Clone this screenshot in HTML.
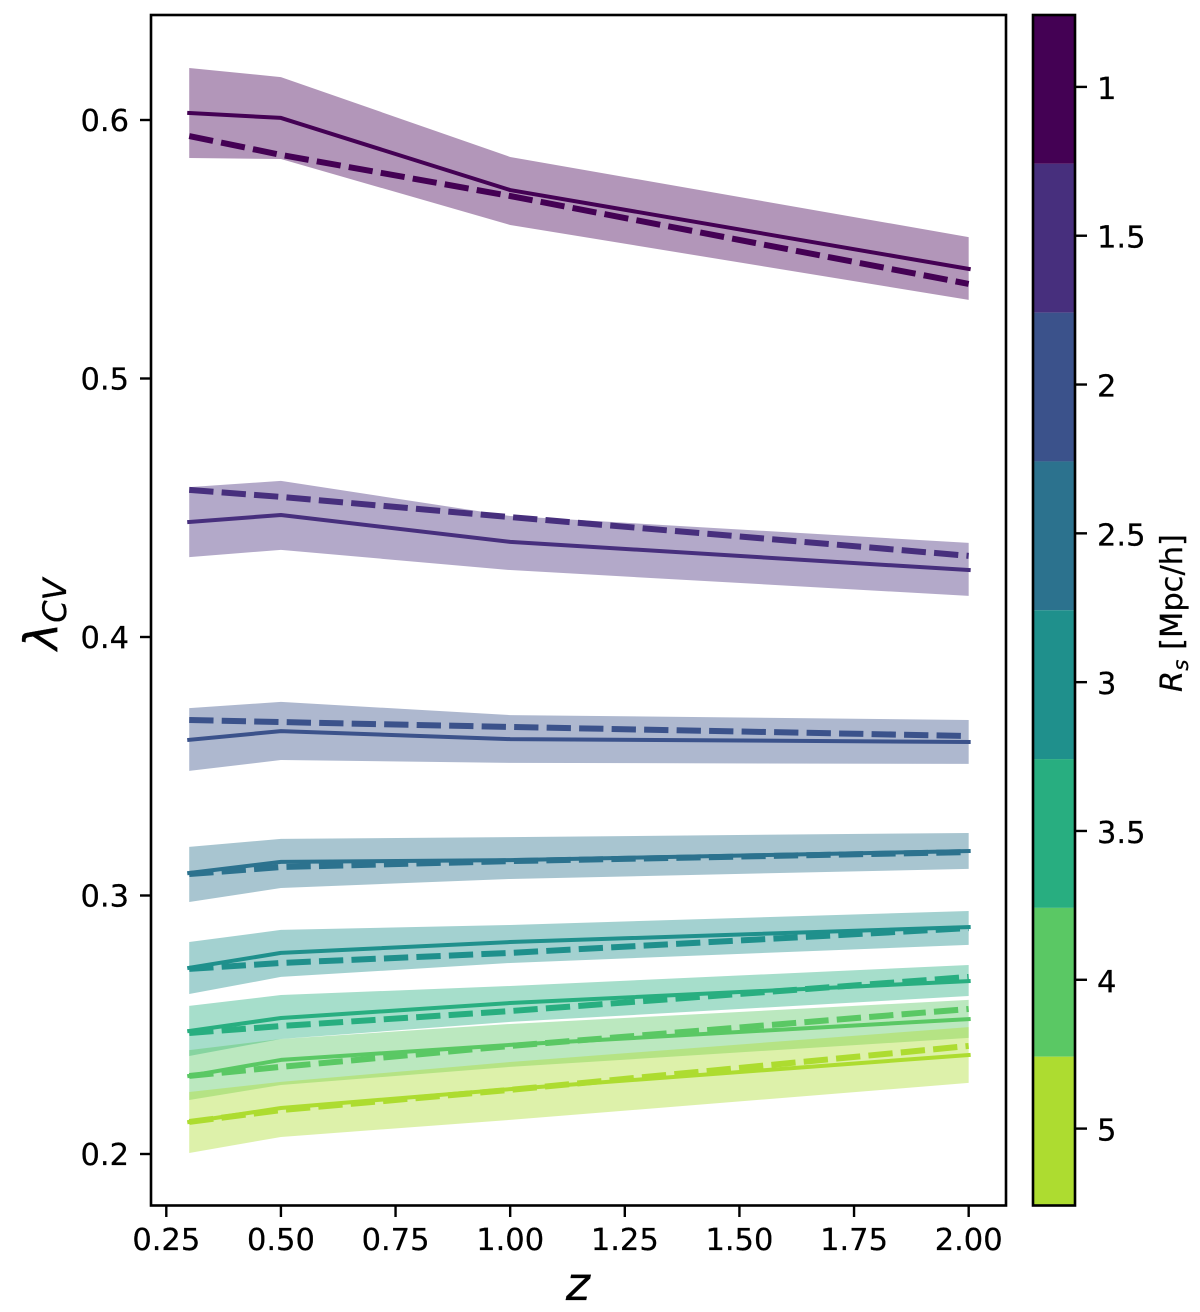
<!DOCTYPE html>
<html lang="en">
<head>
<meta charset="utf-8">
<title>Lambda CV vs redshift</title>
<style>
html,body{margin:0;padding:0;background:#fff;}
svg{display:block;}
text{font-family:"DejaVu Sans","Liberation Sans",sans-serif;fill:#000;stroke:#000;stroke-width:0.25px;}
</style>
</head>
<body>
<svg id="chart" xmlns="http://www.w3.org/2000/svg" width="1200" height="1312" viewBox="0 0 1200 1312">
  <g id="bands"></g>
  <rect x="151" y="15" width="855" height="1190.5" fill="none" stroke="#000" stroke-width="2.6"/>
  <g id="xticks"></g>
  <g id="yticks"></g>
  <text x="578" y="1300" font-size="46" font-style="italic" text-anchor="middle">z</text>
  <text transform="translate(57,650) rotate(-90)" font-size="46" font-style="italic">λ<tspan dy="9" font-size="32">CV</tspan></text>
  <g id="colorbar"></g>
  <rect x="1033" y="15" width="42" height="1190.5" fill="none" stroke="#000" stroke-width="2.6"/>
  <text transform="translate(1182,692) rotate(-90)" font-size="30.5"><tspan font-style="italic">R</tspan><tspan font-style="italic" font-size="21.5" dy="6">s</tspan><tspan dy="-6"> [Mpc/h]</tspan></text>
</svg>
<script>
// ---- data ----
const zValues = [0.3, 0.5, 1.0, 2.0];

const xTickLabels = ['0.25', '0.50', '0.75', '1.00', '1.25', '1.50', '1.75', '2.00'];
const yTickLabels = ['0.2', '0.3', '0.4', '0.5', '0.6'];
const radiusLabels = ['1', '1.5', '2', '2.5', '3', '3.5', '4', '5'];

const upperR1 = [0.6201, 0.6166, 0.5857, 0.5547];
const lowerR1 = [0.5853, 0.5849, 0.5594, 0.5304];
const solidR1 = [0.6027, 0.6008, 0.5729, 0.5424];
const dashR1 = [0.5938, 0.5865, 0.5706, 0.5366];

const upperR15 = [0.4580, 0.4604, 0.4468, 0.4364];
const lowerR15 = [0.4309, 0.4337, 0.4259, 0.4159];
const solidR15 = [0.4445, 0.4472, 0.4368, 0.4259];
const dashR15 = [0.4569, 0.4542, 0.4464, 0.4314];

const upperR2 = [0.3725, 0.3749, 0.3698, 0.3679];
const lowerR2 = [0.3482, 0.3524, 0.3513, 0.3509];
const solidR2 = [0.3602, 0.3636, 0.3605, 0.3594];
const dashR2 = [0.3679, 0.3671, 0.3652, 0.3617];

const upperR25 = [0.3188, 0.3219, 0.3226, 0.3242];
const lowerR25 = [0.2975, 0.3029, 0.3064, 0.3103];
const solidR25 = [0.3087, 0.3130, 0.3137, 0.3172];
const dashR25 = [0.3083, 0.3110, 0.3133, 0.3168];

const upperR3 = [0.2820, 0.2867, 0.2886, 0.2940];
const lowerR3 = [0.2619, 0.2685, 0.2739, 0.2809];
const solidR3 = [0.2720, 0.2778, 0.2820, 0.2878];
const dashR3 = [0.2716, 0.2739, 0.2778, 0.2874];

const upperR35 = [0.2573, 0.2615, 0.2650, 0.2731];
const lowerR35 = [0.2379, 0.2445, 0.2511, 0.2611];
const solidR35 = [0.2476, 0.2526, 0.2584, 0.2669];
const dashR35 = [0.2468, 0.2495, 0.2553, 0.2685];

const upperR4 = [0.2402, 0.2445, 0.2503, 0.2596];
const lowerR4 = [0.2209, 0.2267, 0.2337, 0.2449];
const solidR4 = [0.2302, 0.2364, 0.2422, 0.2522];
const dashR4 = [0.2302, 0.2337, 0.2418, 0.2561];

const upperR5 = [0.2240, 0.2279, 0.2356, 0.2491];
const lowerR5 = [0.2004, 0.2066, 0.2132, 0.2275];
const solidR5 = [0.2124, 0.2178, 0.2251, 0.2383];
const dashR5 = [0.2124, 0.2170, 0.2248, 0.2418];

const upperSeries = [upperR1, upperR15, upperR2, upperR25, upperR3, upperR35, upperR4, upperR5];
const lowerSeries = [lowerR1, lowerR15, lowerR2, lowerR25, lowerR3, lowerR35, lowerR4, lowerR5];
const solidSeries = [solidR1, solidR15, solidR2, solidR25, solidR3, solidR35, solidR4, solidR5];
const dashSeries = [dashR1, dashR15, dashR2, dashR25, dashR3, dashR35, dashR4, dashR5];

// ---- appearance ----
const palette = ['#440154', '#472f7d', '#3b528b', '#2c728e', '#1f908c', '#28ae80', '#5ac864', '#addc30'];

// ---- axis functions ----
function xScale(z) { return 166.3 + (z - 0.25) * 458.5; }
function yScale(v) { return 1154 - (v - 0.2) * 2585; }
function cbarTop(i) { return 15 + i * (1190.5 / radiusLabels.length); }

const NS = 'http://www.w3.org/2000/svg';
function make(tag, parent) {
  const el = document.createElementNS(NS, tag);
  parent.appendChild(el);
  return el;
}
function pointList(values) {
  return values.map(function (v, i) { return xScale(zValues[i]).toFixed(2) + ',' + yScale(v).toFixed(2); });
}

// ---- series ----
const bandsGroup = document.getElementById('bands');
radiusLabels.forEach(function (label, s) {
  const color = palette[s];
  const slug = label.replace('.', '-');

  const band = make('polygon', bandsGroup);
  
  
  band.setAttribute('points', pointList(upperSeries[s]).concat(pointList(lowerSeries[s]).reverse()).join(' '));
  band.setAttribute('fill', color);
  band.setAttribute('fill-opacity', '0.41');

  const solid = make('polyline', bandsGroup);
  
  
  solid.setAttribute('points', pointList(solidSeries[s]).join(' '));
  solid.setAttribute('fill', 'none');
  solid.setAttribute('stroke', color);
  solid.setAttribute('stroke-width', '4');
  solid.setAttribute('stroke-linecap', 'square');
  solid.setAttribute('stroke-linejoin', 'round');

  const dashed = make('polyline', bandsGroup);
  
  
  dashed.setAttribute('points', pointList(dashSeries[s]).join(' '));
  dashed.setAttribute('fill', 'none');
  dashed.setAttribute('stroke', color);
  dashed.setAttribute('stroke-width', '6');
  dashed.setAttribute('stroke-dasharray', '24.3 8.2');
  dashed.setAttribute('stroke-linejoin', 'round');
});

// ---- x ticks ----
const xTickGroup = document.getElementById('xticks');
xTickLabels.forEach(function (label) {
  const x = xScale(parseFloat(label));
  const tick = make('line', xTickGroup);
  
  
  tick.setAttribute('x1', x);
  tick.setAttribute('x2', x);
  tick.setAttribute('y1', 1205);
  tick.setAttribute('y2', 1217);
  tick.setAttribute('stroke', '#000');
  tick.setAttribute('stroke-width', '2.4');
  const text = make('text', xTickGroup);
  
  
  text.setAttribute('x', x);
  text.setAttribute('y', 1250);
  text.setAttribute('font-size', '30.5');
  text.setAttribute('text-anchor', 'middle');
  text.textContent = label;
});

// ---- y ticks ----
const yTickGroup = document.getElementById('yticks');
yTickLabels.forEach(function (label) {
  const y = yScale(parseFloat(label));
  const tick = make('line', yTickGroup);
  
  
  tick.setAttribute('x1', 140);
  tick.setAttribute('x2', 151);
  tick.setAttribute('y1', y);
  tick.setAttribute('y2', y);
  tick.setAttribute('stroke', '#000');
  tick.setAttribute('stroke-width', '2.4');
  const text = make('text', yTickGroup);
  
  
  text.setAttribute('x', 129);
  text.setAttribute('y', y + 11);
  text.setAttribute('font-size', '30.5');
  text.setAttribute('text-anchor', 'end');
  text.textContent = label;
});

// ---- colorbar ----
const cbarGroup = document.getElementById('colorbar');
radiusLabels.forEach(function (label, i) {
  const top = cbarTop(i);
  const bottom = cbarTop(i + 1);
  const seg = make('rect', cbarGroup);
  
  
  seg.setAttribute('x', 1033);
  seg.setAttribute('y', top);
  seg.setAttribute('width', 42);
  seg.setAttribute('height', bottom - top);
  seg.setAttribute('fill', palette[i]);
  const mid = (top + bottom) / 2 - 2.5;
  const tick = make('line', cbarGroup);
  
  
  tick.setAttribute('x1', 1075);
  tick.setAttribute('x2', 1087);
  tick.setAttribute('y1', mid);
  tick.setAttribute('y2', mid);
  tick.setAttribute('stroke', '#000');
  tick.setAttribute('stroke-width', '2.4');
  const text = make('text', cbarGroup);
  
  
  text.setAttribute('x', 1097);
  text.setAttribute('y', mid + 12);
  text.setAttribute('font-size', '30.5');
  text.textContent = label;
});
</script>
</body>
</html>
